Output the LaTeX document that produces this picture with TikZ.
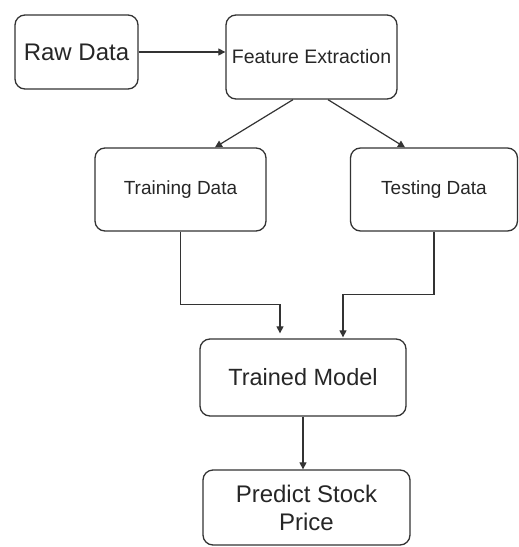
\documentclass[tikz,border=0pt]{standalone}
\usepackage{fontspec}
\setmainfont{Liberation Sans}
\usetikzlibrary{arrows.meta}
\definecolor{ln}{HTML}{333333}
\begin{document}
\begin{tikzpicture}[x=1pt,y=-1pt,
  box/.style={draw=ln, line width=1.3pt, rounded corners=10pt, align=center, inner sep=0pt, text=black!85},
  conn/.style={draw=ln, line width=1.2pt, -{Triangle[length=7pt,width=7pt]}}]
\useasboundingbox (0,0) rectangle (519,547);
\node[box, minimum width=123pt, minimum height=74pt, font=\fontsize{24}{28}\selectfont] (raw) at (76.5,52) {Raw Data};
\node[box, minimum width=171pt, minimum height=84pt, font=\fontsize{19.5}{23}\selectfont] (feat) at (311.5,57) {Feature Extraction};
\node[box, minimum width=171pt, minimum height=83pt, font=\fontsize{19}{23}\selectfont] (train) at (180.5,189.5) {Training Data};
\node[box, minimum width=167pt, minimum height=83pt, font=\fontsize{19}{23}\selectfont] (test) at (434,189.5) {Testing Data};
\node[box, minimum width=206pt, minimum height=77pt, font=\fontsize{23.5}{28}\selectfont] (model) at (303,377.5) {Trained Model};
\node[box, minimum width=207pt, minimum height=75pt, font=\fontsize{24}{28}\selectfont] (pred) at (306.5,507.5) {Predict Stock\\Price};
\draw[conn] (raw) -- (raw -| feat.west);
\draw[conn] ([xshift=-18.5pt]feat.south) -- ([xshift=34.5pt]train.north);
\draw[conn] ([xshift=16.5pt]feat.south) -- ([xshift=-29pt]test.north);
\coordinate (tm) at ([xshift=-23pt,yshift=5pt]model.north);
\coordinate (sm) at ([xshift=40pt,yshift=1pt]model.north);
\draw[conn] (train.south) |- ([yshift=29pt]tm) -- (tm);
\draw[conn] (test.south) |- ([yshift=43pt]sm) -- (sm);
\draw[conn] (model.south) -- (model.south |- pred.north);
\end{tikzpicture}
\end{document}
